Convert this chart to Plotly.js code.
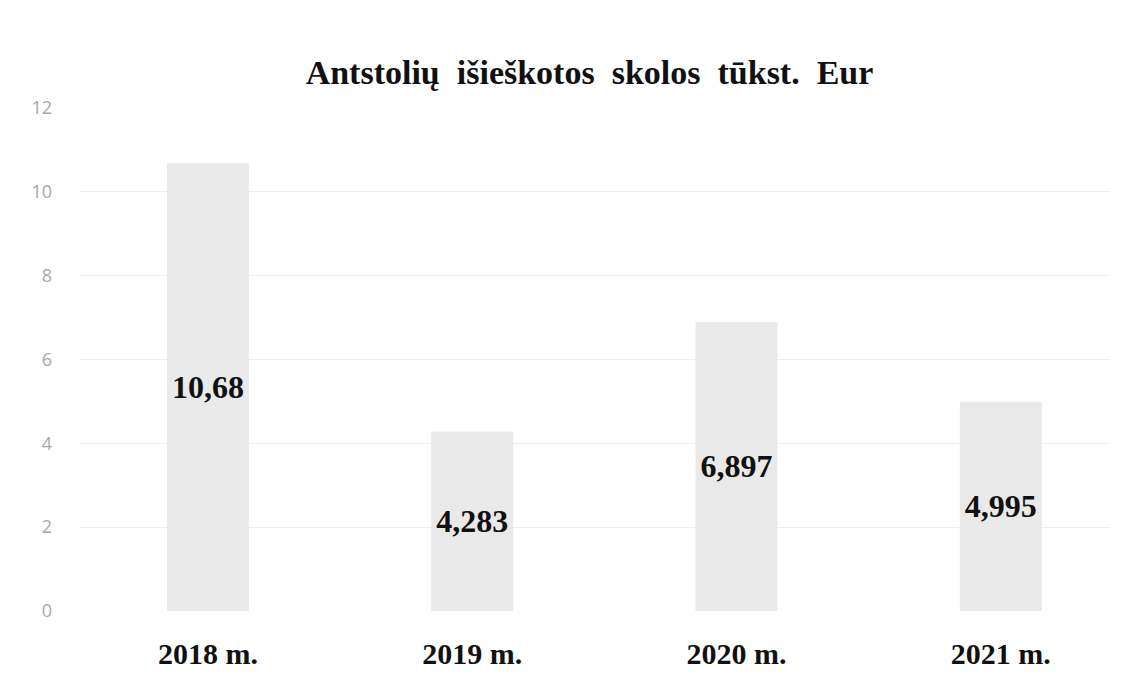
<!DOCTYPE html>
<html>
<head>
<meta charset="utf-8">
<script src="https://cdn.plot.ly/plotly-3.0.1.min.js"></script>
<style>html,body{margin:0;padding:0;background:#fff;}#chart{width:1125px;height:675px;}</style>
</head>
<body>
<div id="chart"></div>
<script>
const categories = ["2018 m.", "2019 m.", "2020 m.", "2021 m."];
const values = [10.68, 4.283, 6.897, 4.995];
const yTicks = [0, 2, 4, 6, 8, 10, 12];
const chartTitle = "Antstolių išieškotos skolos tūkst. Eur";

const labels = values.map(v => '<b>' + String(v).replace('.', ',') + '</b>');

const trace = {
  type: 'bar',
  x: categories,
  y: values,
  text: labels,
  textposition: 'inside',
  insidetextanchor: 'middle',
  textangle: 0,
  constraintext: 'none',
  textfont: {family: '"Liberation Serif", "Times New Roman", serif', size: 32, color: '#111'},
  marker: {color: '#e9e9e9', line: {width: 0}},
  width: 0.31,
  hoverinfo: 'none'
};

const layout = {
  width: 1125,
  height: 675,
  paper_bgcolor: '#ffffff',
  plot_bgcolor: '#ffffff',
  margin: {l: 80, r: 15, t: 108, b: 64},
  showlegend: false,
  title: {
    text: '<b>' + chartTitle.split(' ').join('&nbsp; ') + '</b>',
    font: {family: '"Liberation Serif", "Times New Roman", serif', size: 34, color: '#111'},
    x: 0.524, xanchor: 'center',
    y: 0.893, yanchor: 'middle'
  },
  xaxis: {
    type: 'category',
    range: [-0.484, 3.413],
    showgrid: false,
    zeroline: false,
    showline: false,
    ticks: '',
    tickfont: {family: '"Liberation Serif", "Times New Roman", serif', size: 30, color: '#111'},
    ticklabelstandoff: 22,
    tickprefix: '<b>', ticksuffix: '</b>'
  },
  yaxis: {
    range: [0, 12],
    tickvals: yTicks,
    ticktext: yTicks.map(String),
    showgrid: true,
    gridcolor: '#efefef',
    gridwidth: 1,
    zeroline: false,
    showline: false,
    ticks: '',
    tickfont: {family: '"Open Sans", "Liberation Sans", sans-serif', size: 18, color: '#a8a8a8'},
    ticklabelstandoff: 27
  }
};

Plotly.newPlot('chart', [trace], layout, {displayModeBar: false, staticPlot: true});
</script>
</body>
</html>
